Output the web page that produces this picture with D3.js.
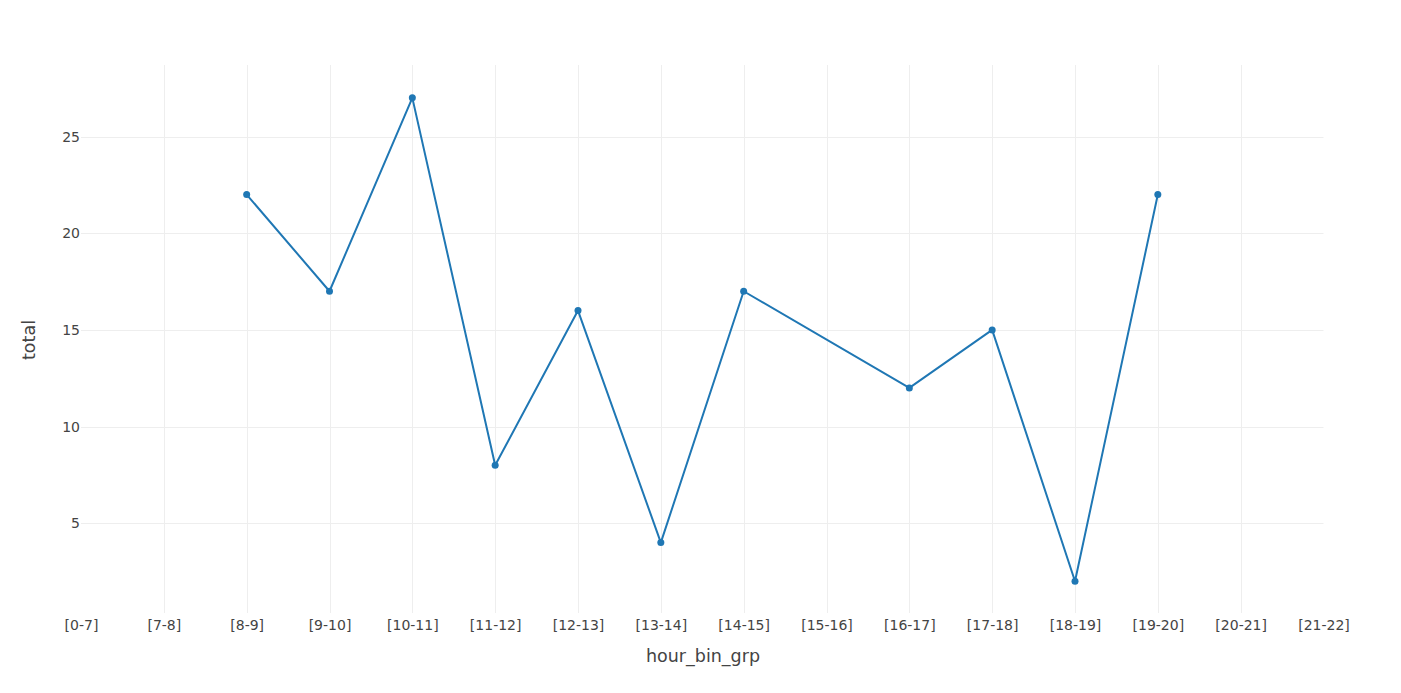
<!DOCTYPE html>
<html><head><meta charset="utf-8">
<script src="https://cdn.jsdelivr.net/npm/d3@7"></script>
<style>body{margin:0;background:#fff;} svg{display:block;}</style>
</head><body>
<svg id="c" width="1401" height="693"></svg>
<script>
const categories = ["[0-7]","[7-8]","[8-9]","[9-10]","[10-11]","[11-12]","[12-13]","[13-14]","[14-15]","[15-16]","[16-17]","[17-18]","[18-19]","[19-20]","[20-21]","[21-22]"];
const seriesCats = ["[8-9]","[9-10]","[10-11]","[11-12]","[12-13]","[13-14]","[14-15]","[16-17]","[17-18]","[18-19]","[19-20]"];
const seriesValues = [22,17,27,8,16,4,17,12,15,2,22];
const yTicks = [5,10,15,20,25];
const xTitle = "hour_bin_grp", yTitle = "total";

const svg = d3.select("#c");
const L = 81, R = 1323.5, T = 65, B = 613;
const font = '"DejaVu Sans", Verdana, sans-serif';
const x = d3.scalePoint().domain(categories).range([L, R]);
const y = d3.scaleLinear().domain([0.36, 28.7]).range([B, T]);

const g = svg.append("g");
g.selectAll(".vg").data(categories.slice(1, -1)).enter().append("line")
  .attr("x1", d => Math.round(x(d)) + 0.5).attr("x2", d => Math.round(x(d)) + 0.5)
  .attr("y1", T).attr("y2", B).attr("stroke", "#eee").attr("stroke-width", 1);
g.selectAll(".hg").data(yTicks).enter().append("line")
  .attr("x1", L).attr("x2", R)
  .attr("y1", d => Math.round(y(d)) + 0.5).attr("y2", d => Math.round(y(d)) + 0.5)
  .attr("stroke", "#eee").attr("stroke-width", 1);

const xAxis = d3.axisBottom(x).tickSize(0).tickPadding(0);
const xg = svg.append("g").attr("transform", `translate(0,${B})`).call(xAxis);
xg.select(".domain").remove();
xg.selectAll("text").attr("dy", null).attr("y", 17).attr("fill", "#444")
  .style("font-family", font).style("font-size", "14px");

const yAxis = d3.axisLeft(y).tickValues(yTicks).tickSize(0).tickPadding(0);
const yg = svg.append("g").attr("transform", `translate(${L - 1},0)`).call(yAxis);
yg.select(".domain").remove();
yg.selectAll("text").attr("x", 0).attr("fill", "#444")
  .style("font-family", font).style("font-size", "14px");

const pts = seriesCats.map((c, i) => [x(c), y(seriesValues[i])]);
svg.append("path").attr("d", d3.line()(pts)).attr("fill", "none")
  .attr("stroke", "#1f77b4").attr("stroke-width", 2).attr("stroke-linejoin", "round");
svg.selectAll(".pt").data(pts).enter().append("circle")
  .attr("cx", d => d[0]).attr("cy", d => d[1]).attr("r", 3.5).attr("fill", "#1f77b4");

svg.append("text").attr("x", 703).attr("y", 662).attr("text-anchor", "middle")
  .attr("fill", "#444").style("font-family", font).style("font-size", "17.5px").text(xTitle);
svg.append("text").attr("transform", `translate(35,340) rotate(-90)`).attr("text-anchor", "middle")
  .attr("fill", "#444").style("font-family", font).style("font-size", "17.5px").text(yTitle);
</script>
</body></html>
